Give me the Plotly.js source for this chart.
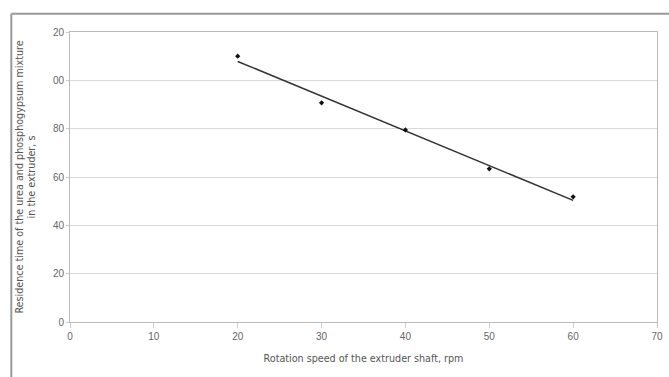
<!DOCTYPE html>
<html>
<head>
<meta charset="utf-8">
<script src="https://cdn.plot.ly/plotly-3.0.1.min.js"></script>
<style>
html,body{margin:0;padding:0;background:#fff;}
#chart{width:669px;height:377px;}
</style>
</head>
<body>
<div id="chart"></div>
<script>
const speed = [20, 30, 40, 50, 60];
const residence = [110, 90.7, 79.5, 63.4, 51.8];
const yTickVals = [0, 20, 40, 60, 80, 100, 120];
const yTickText = ["0", "20", "40", "60", "80", "00", "20"];
const xTickVals = [0, 10, 20, 30, 40, 50, 60, 70];

// linear trendline (least squares) through the measured points
const n = speed.length;
const mx = speed.reduce((a, b) => a + b, 0) / n;
const my = residence.reduce((a, b) => a + b, 0) / n;
let sxy = 0, sxx = 0;
for (let i = 0; i < n; i++) { sxy += (speed[i] - mx) * (residence[i] - my); sxx += (speed[i] - mx) ** 2; }
const slope = sxy / sxx, icpt = my - slope * mx;
const trendX = [speed[0], speed[n - 1]];
const trendY = trendX.map(x => icpt + slope * x);

const tickFont = {family: "Liberation Sans, Arial, sans-serif", size: 10, color: "#666"};
const titleFont = {family: "DejaVu Sans, sans-serif", size: 9.6, color: "#555"};

const data = [
  {x: trendX, y: trendY, mode: "lines", line: {color: "#333", width: 1.5}, hoverinfo: "skip"},
  {x: speed, y: residence, mode: "markers", marker: {symbol: "diamond", size: 4, color: "#111"}}
];

const layout = {
  width: 669, height: 377,
  margin: {l: 70, r: 12, t: 32, b: 55},
  paper_bgcolor: "#fff", plot_bgcolor: "#fff",
  showlegend: false,
  font: tickFont,
  xaxis: {
    range: [0, 70], tickvals: xTickVals, showgrid: false, zeroline: false,
    showline: true, linecolor: "#bbb", linewidth: 1, mirror: true,
    ticks: "outside", ticklen: 5, tickcolor: "#ccc", tickfont: tickFont,
    title: {text: "Rotation speed of the extruder shaft, rpm", font: titleFont, standoff: 14}
  },
  yaxis: {
    range: [0, 120], tickvals: yTickVals, ticktext: yTickText,
    showgrid: true, gridcolor: "#d9d9d9", gridwidth: 1, zeroline: false,
    showline: true, linecolor: "#bbb", linewidth: 1, mirror: true,
    ticks: "outside", ticklen: 3, tickcolor: "#ccc", tickfont: tickFont,
    title: {text: "Residence time of the urea and phosphogypsum mixture<br>in the extruder, s", font: titleFont, standoff: 15}
  },
  shapes: [
    {type: "line", xref: "paper", yref: "paper", x0: -0.1, x1: 1.05, y0: 1.063, y1: 1.063, line: {color: "#999", width: 2}},
    {type: "line", xref: "paper", yref: "paper", x0: -0.1, x1: -0.1, y0: 1.063, y1: -0.2, line: {color: "#999", width: 2}}
  ]
};

Plotly.newPlot("chart", data, layout, {displayModeBar: false, staticPlot: true});
</script>
</body>
</html>
